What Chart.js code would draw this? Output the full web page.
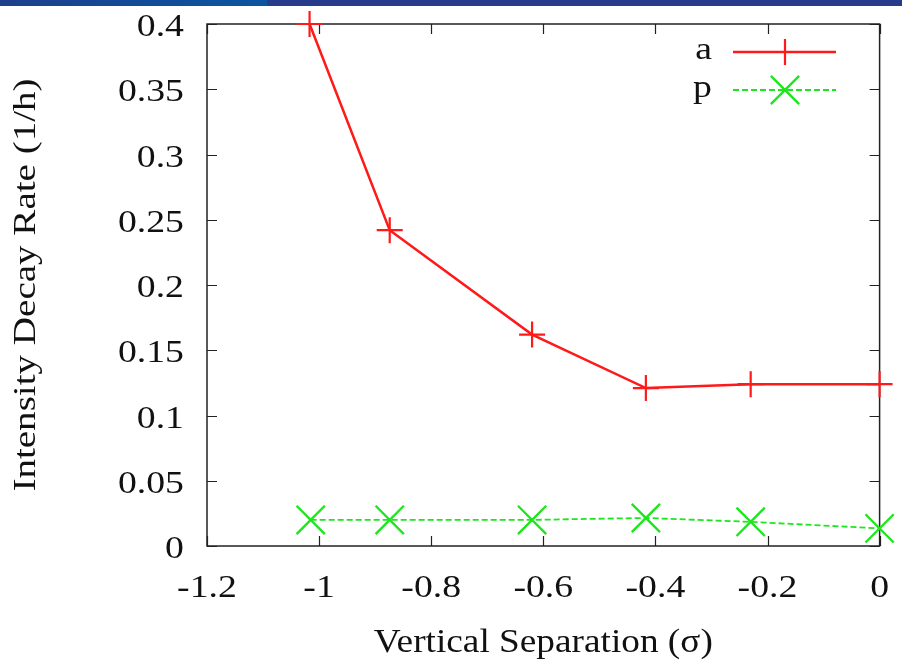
<!DOCTYPE html>
<html>
<head>
<meta charset="utf-8">
<title>Intensity decay rate</title>
<script src="https://cdn.jsdelivr.net/npm/chart.js@4.4.1/dist/chart.umd.min.js"></script>
<style>
  html, body { margin: 0; padding: 0; background: #fff; }
  #wrap { position: relative; width: 902px; height: 665px; overflow: hidden; }
  #band { position: absolute; left: 0; top: 0; width: 902px; height: 6px;
          background: linear-gradient(to right, #1d3f8c 0px, #0a55a0 267px, #263b8b 267px, #263b8b 902px); }
  canvas { display: block; }
</style>
</head>
<body>
<div id="wrap">
  <canvas id="decayChart" width="902" height="665"></canvas>
  <div id="band"></div>
</div>
<script>
// vertical separation (sigma) and decay rate (1/h) for the two series
const sepA  = [-1.017, -0.874, -0.620, -0.417, -0.230, 0];
const rateA = [0.400, 0.242, 0.162, 0.121, 0.124, 0.124];
const sepP  = [-1.015, -0.874, -0.620, -0.417, -0.230, 0];
const rateP = [0.020, 0.020, 0.020, 0.0215, 0.0185, 0.0135];

const xTicks = [-1.2, -1.0, -0.8, -0.6, -0.4, -0.2, 0];
const xTickLabels = ['-1.2', '-1', '-0.8', '-0.6', '-0.4', '-0.2', '0'];
const yTicks = [0, 0.05, 0.1, 0.15, 0.2, 0.25, 0.3, 0.35, 0.4];
const yTickLabels = ['0', '0.05', '0.1', '0.15', '0.2', '0.25', '0.3', '0.35', '0.4'];

const seriesNames = ['a', 'p'];
const xTitle = 'Vertical Separation (\u03c3)';
const yTitle = 'Intensity Decay Rate (1/h)';

const RED = '#ff1a1a';
const GREEN = '#1ee61e';
const INK = '#111';
const SERIF = '"Liberation Serif", "Times New Roman", serif';

// the typeface in this plot runs wide, so text is stretched along its baseline
function wideText(ctx, text, x, y, opts) {
  ctx.save();
  ctx.translate(x, y);
  if (opts.rotate) ctx.rotate(opts.rotate);
  ctx.scale(opts.sx, 1);
  ctx.font = opts.font;
  ctx.fillStyle = INK;
  ctx.textAlign = opts.align || 'center';
  ctx.textBaseline = 'alphabetic';
  ctx.fillText(text, 0, 0);
  ctx.restore();
}

const frame = {
  id: 'frame',
  beforeDatasetsDraw(chart) {
    const { ctx, chartArea: a, scales: { x, y } } = chart;
    ctx.save();
    ctx.strokeStyle = '#222';
    ctx.lineWidth = 1.5;
    ctx.strokeRect(a.left, a.top, a.right - a.left, a.bottom - a.top);
    ctx.lineWidth = 1.2;
    ctx.beginPath();
    const len = 10;
    xTicks.forEach(v => {
      const px = Math.round(x.getPixelForValue(v)) + 0.5;
      ctx.moveTo(px, a.bottom); ctx.lineTo(px, a.bottom - len);
      ctx.moveTo(px, a.top);    ctx.lineTo(px, a.top + len);
    });
    yTicks.forEach(v => {
      const py = Math.round(y.getPixelForValue(v)) + 0.5;
      ctx.moveTo(a.left, py);  ctx.lineTo(a.left + len, py);
      ctx.moveTo(a.right, py); ctx.lineTo(a.right - len, py);
    });
    ctx.stroke();
    ctx.restore();
  },
  afterDraw(chart) {
    const { ctx, chartArea: a, scales: { x, y } } = chart;
    const tickFont = '32px ' + SERIF;

    yTicks.forEach((v, i) => {
      wideText(ctx, yTickLabels[i], a.left - 23, y.getPixelForValue(v) + 12,
        { font: tickFont, sx: 1.18, align: 'right' });
    });
    xTicks.forEach((v, i) => {
      wideText(ctx, xTickLabels[i], x.getPixelForValue(v), a.bottom + 51,
        { font: tickFont, sx: 1.18, align: 'center' });
    });

    wideText(ctx, xTitle, (a.left + a.right) / 2, 652,
      { font: '33px ' + SERIF, sx: 1.13 });
    wideText(ctx, yTitle, 35, (a.top + a.bottom) / 2,
      { font: '31px ' + SERIF, sx: 1.26, rotate: -Math.PI / 2 });

    // key in the upper right corner
    const keyRows = [52, 90];
    chart.data.datasets.forEach((ds, i) => {
      const ky = keyRows[i];
      wideText(ctx, seriesNames[i], 712, ky + 7,
        { font: tickFont, sx: 1.18, align: 'right' });
      ctx.save();
      ctx.strokeStyle = ds.borderColor;
      ctx.lineWidth = ds.borderWidth;
      ctx.setLineDash(ds.borderDash || []);
      ctx.beginPath();
      ctx.moveTo(733, ky); ctx.lineTo(836, ky);
      ctx.stroke();
      ctx.setLineDash([]);
      ctx.lineWidth = ds.pointBorderWidth;
      ctx.beginPath();
      const cx = 785;
      if (ds.pointStyle === 'cross') {
        const r = ds.pointRadius;
        ctx.moveTo(cx - r, ky); ctx.lineTo(cx + r, ky);
        ctx.moveTo(cx, ky - r); ctx.lineTo(cx, ky + r);
      } else {
        const r = ds.pointRadius * Math.SQRT1_2;
        ctx.moveTo(cx - r, ky - r); ctx.lineTo(cx + r, ky + r);
        ctx.moveTo(cx - r, ky + r); ctx.lineTo(cx + r, ky - r);
      }
      ctx.stroke();
      ctx.restore();
    });
  }
};

const canvas = document.getElementById('decayChart');
new Chart(canvas, {
  type: 'line',
  data: {
    datasets: [
      {
        label: seriesNames[0],
        data: sepA.map((s, i) => ({ x: s, y: rateA[i] })),
        borderColor: RED,
        backgroundColor: RED,
        borderWidth: 2.5,
        pointStyle: 'cross',
        pointRadius: 13,
        pointBorderWidth: 2.2,
        pointBorderColor: RED,
        tension: 0,
        fill: false,
        clip: false
      },
      {
        label: seriesNames[1],
        data: sepP.map((s, i) => ({ x: s, y: rateP[i] })),
        borderColor: GREEN,
        backgroundColor: GREEN,
        borderWidth: 1.8,
        borderDash: [6, 3],
        pointStyle: 'crossRot',
        pointRadius: 20,
        pointBorderWidth: 2.4,
        pointBorderColor: GREEN,
        tension: 0,
        fill: false,
        clip: false
      }
    ]
  },
  options: {
    responsive: false,
    animation: false,
    layout: { padding: { left: 207, top: 24, right: 21, bottom: 119 } },
    plugins: { legend: { display: false }, tooltip: { enabled: false } },
    scales: {
      x: { type: 'linear', min: -1.2, max: 0, display: false },
      y: { type: 'linear', min: 0, max: 0.4, display: false }
    }
  },
  plugins: [frame]
});
</script>
</body>
</html>
